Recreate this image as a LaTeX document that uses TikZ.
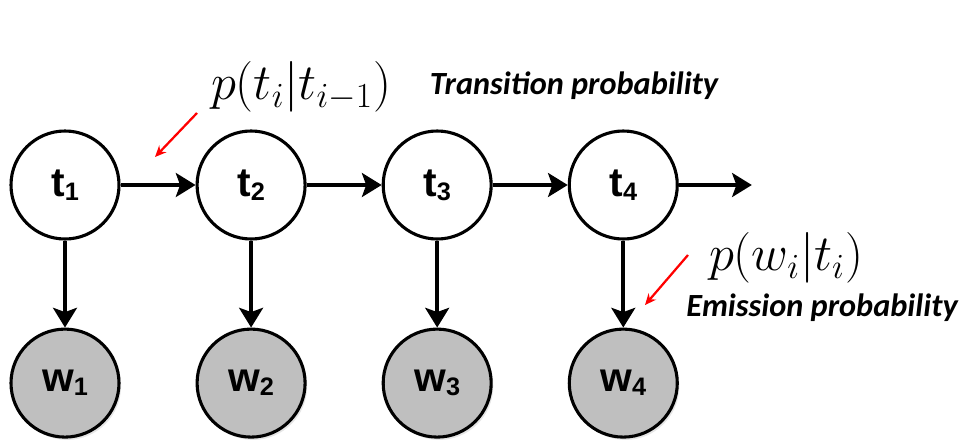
\documentclass[tikz,border=0pt]{standalone}
\usepackage{fontspec}
\setsansfont{Liberation Sans}
\newfontfamily\labelfont{Carlito}
\usetikzlibrary{positioning}
\usetikzlibrary{arrows.meta}
\usetikzlibrary{shadows}
\newcommand{\idx}[1]{\raisebox{-3pt}{\fontsize{18}{20}\selectfont #1}}
\tikzset{
  var/.style     = { circle, draw=black, line width=2.2pt, minimum size=2.7cm, inner sep=0pt,
                     font=\sffamily\bfseries\fontsize{29}{32}\selectfont },
  tag/.style     = { var, fill=white },
  word/.style    = { var, fill=black!25,
                     drop shadow={opacity=0.2, shadow xshift=1.5pt, shadow yshift=-2pt} },
  link/.style    = { -{Stealth[length=14pt,width=17pt,inset=3pt]}, line width=2.6pt },
  pointer/.style = { -{Stealth[length=8pt,width=7pt]}, red, line width=1.6pt },
  prob/.style    = { font=\fontsize{25}{30}\selectfont, scale=1.45, transform shape },
  caption/.style = { font=\labelfont\bfseries\itshape\fontsize{23}{27}\selectfont },
}

\begin{document}
\begin{tikzpicture}[node distance=1.875cm]
  \useasboundingbox (-1.625,4.625) rectangle (22.6,-6.425);

  \node (t1) [tag]              {t\idx{1}};
  \node (t2) [tag,right=of t1]  {t\idx{2}};
  \node (t3) [tag,right=of t2]  {t\idx{3}};
  \node (t4) [tag,right=of t3]  {t\idx{4}};
  \coordinate (tend) at ([xshift=1.825cm]t4.east);

  \node (w1) [word,below=2.175cm of t1] {w\idx{1}};
  \node (w2) [word,below=2.175cm of t2] {w\idx{2}};
  \node (w3) [word,below=2.175cm of t3] {w\idx{3}};
  \node (w4) [word,below=2.175cm of t4] {w\idx{4}};

  \draw [link] (t1) -- (t2);
  \draw [link] (t2) -- (t3);
  \draw [link] (t3) -- (t4);
  \draw [link] (t4) -- (tend);

  \draw [link] (t1) -- (w1);
  \draw [link] (t2) -- (w2);
  \draw [link] (t3) -- (w3);
  \draw [link] (t4) -- (w4);

  % transition
  \node (ptrans) [prob]    at (5.9,2.45)    {$p(t_i|t_{i-1})$};
  \node (ctrans) [caption] at (12.725,2.475) {Transition probability};
  \coordinate (tfrom) at (3.3,1.8);
  \coordinate (tto)   at (2.25,0.7);
  \draw [pointer] (tfrom) -- (tto);

  % emission
  \node (pemit) [prob]    at (18.025,-1.825) {$p(w_i|t_i)$};
  \node (cemit) [caption] at (18.925,-3.075) {Emission probability};
  \coordinate (efrom) at (15.575,-1.75);
  \coordinate (eto)   at (14.5,-3.0);
  \draw [pointer] (efrom) -- (eto);
\end{tikzpicture}
\end{document}
